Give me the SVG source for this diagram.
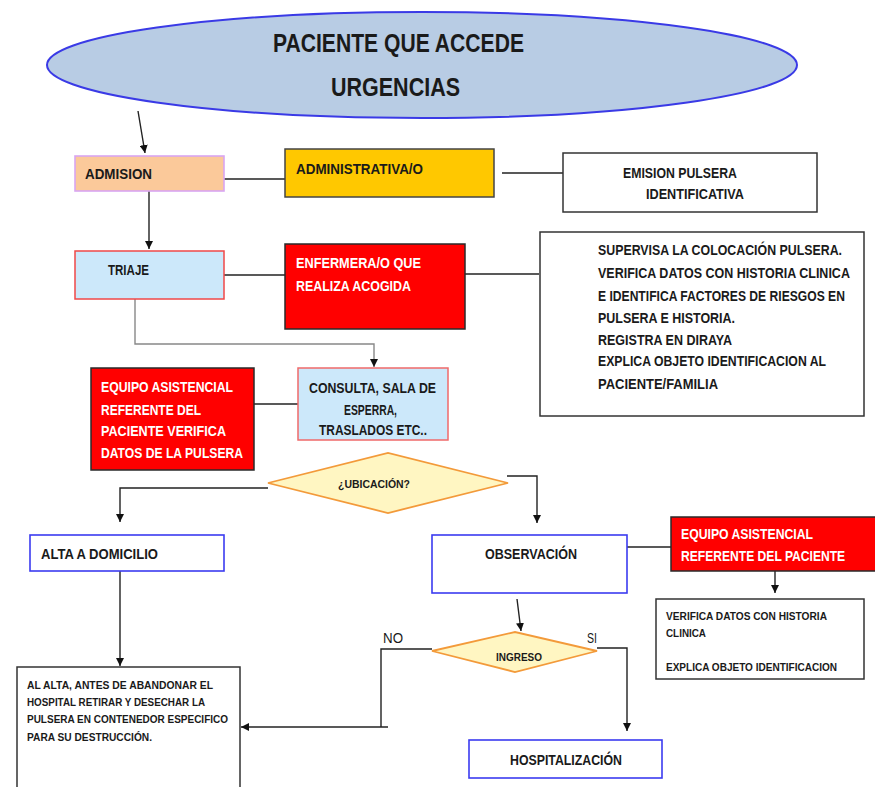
<svg xmlns="http://www.w3.org/2000/svg" width="875" height="787" viewBox="0 0 875 787" xml:space="preserve">
<defs>
<marker id="ah" viewBox="0 0 10 10" refX="10" refY="5" markerWidth="8" markerHeight="8" markerUnits="userSpaceOnUse" orient="auto"><path d="M0,0 L10,5 L0,10 Z" fill="#111"/></marker>
</defs>
<style>
text{font-family:"Liberation Sans",Arial,sans-serif;font-weight:bold;fill:#1a1a1a}
.w{fill:#fff}
.n{font-weight:normal}
.c{stroke:#222;stroke-width:1.4;fill:none}
.g{stroke:#888;stroke-width:1.4;fill:none}
.bw{fill:#fff;stroke:#333;stroke-width:1.5}
.bb{fill:#fff;stroke:#3b3bf0;stroke-width:1.6}
.red{fill:#ff0000;stroke:#2a2a2a;stroke-width:1.5}
.lb{fill:#cce8fa;stroke:#f04848;stroke-width:1.5}
.dia{fill:#fff6c2;stroke:#f39a3a;stroke-width:1.8}
</style>
<rect width="875" height="787" fill="#fff"/>
<g id="connectors">
<path class="c" d="M138,111 L145,153" marker-end="url(#ah)"/>
<path class="c" d="M224,179 L285,179"/>
<path class="c" d="M502,173 L563,173"/>
<path class="c" d="M149,191 L149,249" marker-end="url(#ah)"/>
<path class="c" d="M224,275 L285,275"/>
<path class="c" d="M448,274 L539,274"/>
<path class="g" d="M135,299 L135,344 L374,344 L374,367" marker-end="url(#ah)"/>
<path class="c" d="M254,404 L298,404"/>
<path class="c" d="M268,488 L120,488 L120,522" marker-end="url(#ah)"/>
<path class="c" d="M507,476 L537,476 L537,523" marker-end="url(#ah)"/>
<path class="c" d="M627,547 L671,547"/>
<path class="c" d="M775,571 L775,593" marker-end="url(#ah)"/>
<path class="c" d="M517,599 L521,631" marker-end="url(#ah)"/>
<path class="c" d="M597,648 L627,648 L627,731" marker-end="url(#ah)"/>
<path class="c" d="M432,649 L381,649 L381,727"/>
<path class="c" d="M388,727 L241,727" marker-end="url(#ah)"/>
<path class="c" d="M120,571 L120,666" marker-end="url(#ah)"/>
</g>
<g id="inicio">
<ellipse cx="422" cy="65" rx="375" ry="53" fill="#b8cce4" stroke="#3a3ae6" stroke-width="2"/>
<text x="273" y="52" font-size="26" textLength="251" lengthAdjust="spacingAndGlyphs">PACIENTE QUE ACCEDE</text>
<text x="331" y="96" font-size="26" textLength="129" lengthAdjust="spacingAndGlyphs">URGENCIAS</text>
</g>
<g id="admision">
<rect x="75" y="156" width="149" height="35" fill="#fbc99a" stroke="#d9a6f2" stroke-width="1.6"/>
<text x="85" y="179" font-size="15" textLength="67" lengthAdjust="spacingAndGlyphs">ADMISION</text>
</g>
<g id="administrativa">
<rect x="285" y="149" width="209" height="48" fill="#ffc800" stroke="#444" stroke-width="1.5"/>
<text x="296" y="174" font-size="15" textLength="127" lengthAdjust="spacingAndGlyphs">ADMINISTRATIVA/O</text>
</g>
<g id="emision">
<rect class="bw" x="563" y="153" width="254" height="59"/>
<text x="623" y="178" font-size="15" textLength="114" lengthAdjust="spacingAndGlyphs">EMISION PULSERA</text>
<text x="646" y="199" font-size="15" textLength="98" lengthAdjust="spacingAndGlyphs">IDENTIFICATIVA</text>
</g>
<g id="triaje">
<rect class="lb" x="75" y="251" width="149" height="48"/>
<text x="108" y="275" font-size="15" textLength="41" lengthAdjust="spacingAndGlyphs">TRIAJE</text>
</g>
<g id="enfermera">
<rect class="red" x="285" y="244" width="180" height="85"/>
<text class="w" x="296" y="268" font-size="15" textLength="125" lengthAdjust="spacingAndGlyphs">ENFERMERA/O QUE</text>
<text class="w" x="296" y="291" font-size="15" textLength="115" lengthAdjust="spacingAndGlyphs">REALIZA ACOGIDA</text>
</g>
<g id="supervisa">
<rect class="bw" x="540" y="232" width="324" height="184"/>
<text transform="translate(598,255) scale(0.80,1)" x="0" y="0" font-size="15" textLength="305" lengthAdjust="spacingAndGlyphs">SUPERVISA LA  COLOCACIÓN PULSERA.</text>
<text transform="translate(598,278) scale(0.826,1)" x="0" y="0" font-size="15" textLength="305" lengthAdjust="spacingAndGlyphs">VERIFICA DATOS CON HISTORIA CLINICA</text>
<text transform="translate(598,301) scale(0.803,1)" x="0" y="0" font-size="15" textLength="307.5" lengthAdjust="spacingAndGlyphs">E IDENTIFICA FACTORES DE RIESGOS EN</text>
<text x="598" y="323" font-size="15" textLength="137" lengthAdjust="spacingAndGlyphs">PULSERA E HISTORIA.</text>
<text x="598" y="345" font-size="15" textLength="134" lengthAdjust="spacingAndGlyphs">REGISTRA EN DIRAYA</text>
<text transform="translate(598,366) scale(0.805,1)" x="0" y="0" font-size="15" textLength="283.2" lengthAdjust="spacingAndGlyphs">EXPLICA OBJETO IDENTIFICACION AL</text>
<text x="598" y="389" font-size="15" textLength="120" lengthAdjust="spacingAndGlyphs">PACIENTE/FAMILIA</text>
</g>
<g id="equipo1">
<rect class="red" x="91" y="368" width="163" height="102"/>
<text class="w" x="101" y="392" font-size="15.5" textLength="132" lengthAdjust="spacingAndGlyphs">EQUIPO ASISTENCIAL</text>
<text class="w" x="101" y="415" font-size="15.5" textLength="100" lengthAdjust="spacingAndGlyphs">REFERENTE  DEL</text>
<text class="w" x="101" y="436" font-size="15.5" textLength="125" lengthAdjust="spacingAndGlyphs">PACIENTE  VERIFICA</text>
<text class="w" x="101" y="458" font-size="15.5" textLength="142" lengthAdjust="spacingAndGlyphs">DATOS DE LA PULSERA</text>
</g>
<g id="consulta">
<rect x="298" y="368" width="150" height="72" fill="#cce8fa" stroke="#f06a6a" stroke-width="1.5"/>
<text x="309" y="393" font-size="15.5" textLength="127" lengthAdjust="spacingAndGlyphs">CONSULTA, SALA DE</text>
<text x="344" y="415" font-size="15.5" textLength="53" lengthAdjust="spacingAndGlyphs">ESPERRA,</text>
<text x="319" y="435" font-size="15.5" textLength="108" lengthAdjust="spacingAndGlyphs">TRASLADOS ETC..</text>
</g>
<g id="ubicacion">
<polygon class="dia" points="268,483 388,453 508,483 388,513"/>
<text x="338" y="488" font-size="11.5" textLength="72" lengthAdjust="spacingAndGlyphs">¿UBICACIÓN?</text>
</g>
<g id="alta">
<rect class="bb" x="30" y="535" width="194" height="36"/>
<text x="41" y="559" font-size="15" textLength="117" lengthAdjust="spacingAndGlyphs">ALTA A DOMICILIO</text>
</g>
<g id="observacion">
<rect class="bb" x="432" y="535" width="195" height="58"/>
<text x="485" y="559" font-size="15" textLength="92" lengthAdjust="spacingAndGlyphs">OBSERVACIÓN</text>
</g>
<g id="equipo2">
<rect class="red" x="671" y="517" width="206" height="54"/>
<text class="w" x="681" y="539" font-size="15.5" textLength="132" lengthAdjust="spacingAndGlyphs">EQUIPO ASISTENCIAL</text>
<text class="w" transform="translate(681,561) scale(0.76,1)" x="0" y="0" font-size="15.5" textLength="216" lengthAdjust="spacingAndGlyphs">REFERENTE DEL  PACIENTE</text>
</g>
<g id="verifica">
<rect class="bw" x="656" y="599" width="208" height="80"/>
<text x="666" y="620" font-size="11.5" textLength="161" lengthAdjust="spacingAndGlyphs">VERIFICA DATOS CON HISTORIA</text>
<text x="666" y="637" font-size="11.5" textLength="40" lengthAdjust="spacingAndGlyphs">CLINICA</text>
<text x="666" y="671" font-size="11.5" textLength="171" lengthAdjust="spacingAndGlyphs">EXPLICA OBJETO IDENTIFICACION</text>
</g>
<g id="ingreso">
<polygon class="dia" points="432,651 515,632 597,651 515,672"/>
<text x="496" y="661" font-size="11.5" textLength="46" lengthAdjust="spacingAndGlyphs">INGRESO</text>
</g>
<g id="labels">
<text class="n" x="383" y="643" font-size="14.5" textLength="20" lengthAdjust="spacingAndGlyphs">NO</text>
<text class="n" x="587" y="643" font-size="14.5" textLength="10" lengthAdjust="spacingAndGlyphs">SI</text>
</g>
<g id="al-alta">
<rect class="bw" x="17" y="667" width="223" height="125"/>
<text x="27" y="689" font-size="11.5" textLength="186" lengthAdjust="spacingAndGlyphs">AL ALTA,  ANTES DE ABANDONAR EL</text>
<text x="27" y="706" font-size="11.5" textLength="178" lengthAdjust="spacingAndGlyphs">HOSPITAL RETIRAR Y DESECHAR LA</text>
<text x="27" y="723" font-size="11.5" textLength="201" lengthAdjust="spacingAndGlyphs">PULSERA EN CONTENEDOR  ESPECIFICO</text>
<text x="27" y="741" font-size="11.5" textLength="125" lengthAdjust="spacingAndGlyphs">PARA SU DESTRUCCIÓN.</text>
</g>
<g id="hospitalizacion">
<rect class="bb" x="469" y="740" width="193" height="38"/>
<text x="510" y="765" font-size="15" textLength="112" lengthAdjust="spacingAndGlyphs">HOSPITALIZACIÓN</text>
</g>
</svg>
